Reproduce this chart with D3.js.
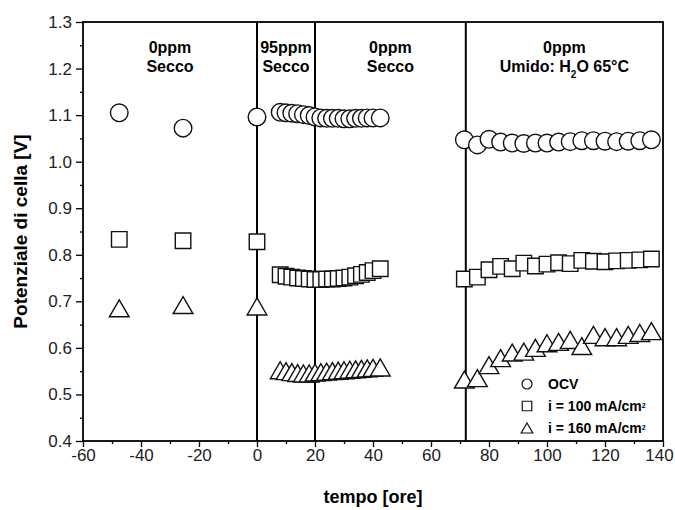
<!DOCTYPE html>
<html>
<head>
<meta charset="utf-8">
<script src="https://cdn.jsdelivr.net/npm/d3@7/dist/d3.min.js"></script>
<style>
  body { margin: 0; background: #fff; }
  svg { font-family: 'Liberation Sans', Arial, sans-serif; }
  .narrow { font-family: 'Liberation Sans Narrow', 'Arial Narrow', 'Liberation Sans', sans-serif; }
</style>
</head>
<body>
<svg id="chart" width="675" height="510"></svg>
<script>
// time [h] for every measurement
const hours = [
    -47.5, -25.5, 0,
    8, 10, 12, 14, 16, 18, 20,
    22, 24, 26, 28, 30, 32, 34, 36, 38, 40, 42.5,
    71.5, 76, 80, 84, 88, 92, 96, 100, 104, 108, 112, 116, 120, 124, 128, 132, 136
]
const ocv = [
    1.105, 1.072, 1.096,
    1.106, 1.105, 1.104, 1.103, 1.101, 1.099, 1.096,
    1.094, 1.093, 1.093, 1.093, 1.092, 1.092, 1.093, 1.093, 1.094, 1.094, 1.094,
    1.047, 1.036, 1.048, 1.042, 1.040, 1.039, 1.040, 1.040, 1.042, 1.043, 1.045, 1.045, 1.044, 1.043, 1.044, 1.045, 1.047
]
const i100 = [
    0.833, 0.830, 0.828,
    0.757, 0.754, 0.752, 0.750, 0.749, 0.748, 0.747,
    0.747, 0.748, 0.748, 0.749, 0.750, 0.752, 0.755, 0.758, 0.762, 0.766, 0.770,
    0.748, 0.752, 0.768, 0.775, 0.770, 0.782, 0.776, 0.780, 0.783, 0.781, 0.788, 0.786, 0.785, 0.787, 0.788, 0.789, 0.791
]
const i160 = [
    0.685, 0.692, 0.689,
    0.552, 0.550, 0.548, 0.546, 0.545, 0.545, 0.547,
    0.548, 0.549, 0.550, 0.551, 0.552, 0.553, 0.554, 0.555, 0.556, 0.557, 0.558,
    0.532, 0.535, 0.563, 0.578, 0.590, 0.592, 0.600, 0.610, 0.613, 0.617, 0.604, 0.628, 0.623, 0.623, 0.628, 0.632, 0.636
]
const switches = [0, 20, 72]
const phases = [
    { from: -60, to: 0, lines: ['0ppm', 'Secco'] },
    { from: 0, to: 20, lines: ['95ppm', 'Secco'] },
    { from: 20, to: 72, lines: ['0ppm', 'Secco'] },
    { from: 72, to: 140, lines: ['0ppm', 'Umido: H<tspan baseline-shift="sub" font-size="10">2</tspan>O 65°C'] }
]
const xTicks = d3.range(-60, 141, 20)
const yTicks = d3.range(0.4, 1.301, 0.1)

const margin = { top: 22, right: 12, bottom: 69, left: 83 }
const W = 675, H = 510

const svg = d3.select('#chart')

const x = d3.scaleLinear().domain([-60, 140]).range([margin.left, W - margin.right])
const y = d3.scaleLinear().domain([0.4, 1.3]).range([H - margin.bottom, margin.top])

// axes
const xAxis = d3.axisBottom(x).tickValues(xTicks).tickSize(6).tickPadding(2).tickFormat(d => String(d))
const xMinor = d3.axisBottom(x).tickValues(d3.range(-50, 140, 20)).tickSize(3).tickFormat('')
const yAxis = d3.axisLeft(y).tickValues(yTicks).tickSize(7).tickPadding(4).tickFormat(d3.format('.1f'))
const yMinor = d3.axisLeft(y).tickValues(d3.range(0.45, 1.3, 0.1)).tickSize(3).tickFormat('')

const gx = svg.append('g').attr('transform', `translate(0,${y(0.4)})`).call(xAxis)
svg.append('g').attr('transform', `translate(0,${y(0.4)})`).call(xMinor)
const gy = svg.append('g').attr('transform', `translate(${x(-60)},0)`).call(yAxis)
svg.append('g').attr('transform', `translate(${x(-60)},0)`).call(yMinor)

svg.selectAll('.domain').remove()
svg.selectAll('.tick line').attr('stroke', '#000').attr('stroke-width', 1.3)
gx.selectAll('text').attr('class', 'narrow').attr('font-size', 17).attr('fill', '#222')
    .attr('dx', d => d === 140 ? -4 : 0)
gy.selectAll('text').attr('class', 'narrow').attr('font-size', 17).attr('fill', '#222')

// frame
svg.append('rect')
    .attr('x', x(-60)).attr('y', y(1.3))
    .attr('width', x(140) - x(-60)).attr('height', y(0.4) - y(1.3))
    .attr('fill', 'none').attr('stroke', '#000').attr('stroke-width', 1.8)

// phase change lines
svg.selectAll('line.switch')
    .data(switches)
    .enter().append('line')
    .attr('class', 'switch')
    .attr('x1', d => x(d)).attr('x2', d => x(d))
    .attr('y1', y(1.3)).attr('y2', y(0.4))
    .attr('stroke', '#000').attr('stroke-width', 2)

// phase labels
phases.forEach(p => {
    let cx = (x(p.from) + x(p.to)) / 2
    let t = svg.append('text')
        .attr('class', 'narrow')
        .attr('y', 53)
        .attr('text-anchor', 'middle')
        .attr('font-size', 16).attr('font-weight', 'bold')
    t.append('tspan').attr('x', cx).attr('dy', 0).html(p.lines[0])
    t.append('tspan').attr('x', cx).attr('dy', 19).html(p.lines[1])
})

// symbols
const circlePath = r => `M${-r},0a${r},${r} 0 1,0 ${2 * r},0a${r},${r} 0 1,0 ${-2 * r},0Z`
const squarePath = s => `M${-s / 2},${-s / 2}h${s}v${s}h${-s}Z`
const trianglePath = s => `M0,${-s * 0.5}L${s * 0.58},${s * 0.5}L${-s * 0.58},${s * 0.5}Z`

const sup2 = '<tspan baseline-shift="super" font-size="7">2</tspan>'
const series = [
    { values: ocv, shape: circlePath(8.8), small: circlePath(5), label: 'OCV' },
    { values: i100, shape: squarePath(15.5), small: squarePath(9.5), label: 'i = 100 mA/cm' + sup2 },
    { values: i160, shape: trianglePath(17), small: trianglePath(10), label: 'i = 160 mA/cm' + sup2 }
]

series.forEach(s => {
    svg.append('g').selectAll('path')
        .data(hours.map((h, i) => [h, s.values[i]]))
        .enter().append('path')
        .attr('d', s.shape)
        .attr('transform', d => `translate(${x(d[0])},${y(d[1])})`)
        .attr('fill', '#fff')
        .attr('stroke', '#111')
        .attr('stroke-width', 1.4)
})

// legend
const legend = svg.append('g').attr('transform', 'translate(527,384)')
series.forEach((s, i) => {
    legend.append('path')
        .attr('d', s.small)
        .attr('transform', `translate(0,${i * 22})`)
        .attr('fill', '#fff').attr('stroke', '#111').attr('stroke-width', 1.2)
    legend.append('text')
        .attr('class', 'narrow')
        .attr('x', 21).attr('y', i * 22 + 5)
        .attr('font-size', 14).attr('font-weight', 'bold')
        .html(s.label)
})

// axis titles
svg.append('text')
    .attr('x', (x(-60) + x(140)) / 2).attr('y', 503)
    .attr('text-anchor', 'middle')
    .attr('font-size', 18).attr('font-weight', 'bold')
    .text('tempo [ore]')

svg.append('text')
    .attr('transform', `translate(27,${(y(0.4) + y(1.3)) / 2}) rotate(-90)`)
    .attr('text-anchor', 'middle')
    .attr('font-size', 19).attr('font-weight', 'bold')
    .text('Potenziale di cella [V]')
</script>
</body>
</html>
